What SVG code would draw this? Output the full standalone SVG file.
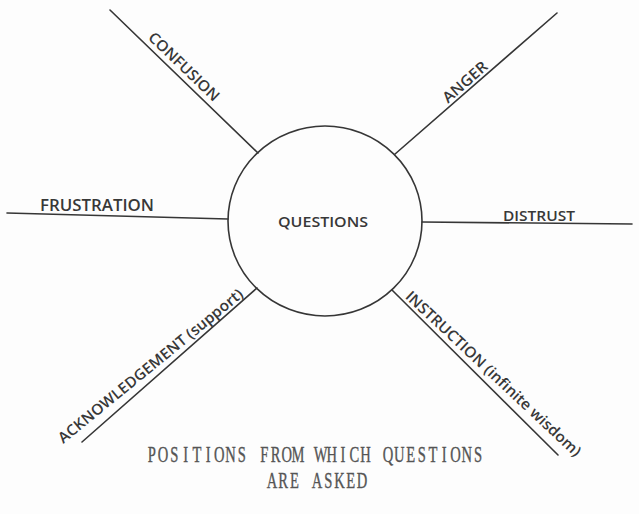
<svg xmlns="http://www.w3.org/2000/svg" width="639" height="514" viewBox="0 0 639 514">
<style>
.bg{fill:#fdfdfd}
.ln{stroke:#363636;stroke-width:1.6;fill:none;stroke-linecap:round}
.lb{font-family:"Open Sans","Liberation Sans",Arial,sans-serif;font-weight:600;fill:#383838}
.cap{font-family:"Liberation Serif","Times New Roman",serif;fill:#555;stroke:#555;stroke-width:0.4;font-size:23.5px}
</style>
<rect class="bg" width="639" height="514"/>
<g id="connectors">
<line class="ln" x1="110" y1="10" x2="258" y2="153"/>
<line class="ln" x1="557" y1="13" x2="394.5" y2="154.5"/>
<line class="ln" x1="7" y1="213" x2="228" y2="219"/>
<line class="ln" x1="422" y1="222" x2="632" y2="224"/>
<line class="ln" x1="257" y1="288" x2="82" y2="442"/>
<line class="ln" x1="392" y1="290" x2="558" y2="455"/>
</g>
<g id="questions">
<ellipse class="ln" cx="325" cy="221" rx="97" ry="95"/>
<text class="lb" x="278" y="227" font-size="15" textLength="90" lengthAdjust="spacingAndGlyphs">QUESTIONS</text>
</g>
<g id="confusion">
<text class="lb" transform="translate(176.5,74.3) rotate(44)" x="0" y="-5.5" text-anchor="middle" font-size="15" textLength="92" lengthAdjust="spacingAndGlyphs">CONFUSION</text>
</g>
<g id="anger">
<text class="lb" transform="translate(470.6,88.5) rotate(-41.2)" x="0" y="-3.5" text-anchor="middle" font-size="15" textLength="54" lengthAdjust="spacingAndGlyphs">ANGER</text>
</g>
<g id="frustration">
<text class="lb" x="40" y="211" font-size="16" textLength="114" lengthAdjust="spacingAndGlyphs">FRUSTRATION</text>
</g>
<g id="distrust">
<text class="lb" x="503" y="221" font-size="14" textLength="72" lengthAdjust="spacingAndGlyphs">DISTRUST</text>
</g>
<g id="acknowledgement">
<text class="lb" transform="translate(63.3,444) rotate(-39.3)" x="0" y="0" font-size="15" textLength="234" lengthAdjust="spacingAndGlyphs">ACKNOWLEDGEMENT (support)</text>
</g>
<g id="instruction">
<text class="lb" transform="translate(404.4,297.6) rotate(43.1)" x="0" y="0" font-size="15" textLength="234" lengthAdjust="spacingAndGlyphs">INSTRUCTION (infinite wisdom)</text>
</g>
<g id="caption" transform="scale(0.62,1)">
<text class="cap" y="462" x="238.3 254.5 274.6 295.4 310.3 331.7 345.3 363.4 383.5 399.1 419.8 436.7 454.1 470.3 489.8 506.0 526.7 549.4 563.7 581.1 598.7 617.4 635.6 655.1 673.8 691.3 712.7 726.3 744.4 764.5">POSITIONS FROM WHICH QUESTIONS</text>
<text class="cap" y="488" x="430.1 449.0 467.7 484.0 502.7 522.8 539.0 558.4 575.3">ARE ASKED</text>
</g>
</svg>
